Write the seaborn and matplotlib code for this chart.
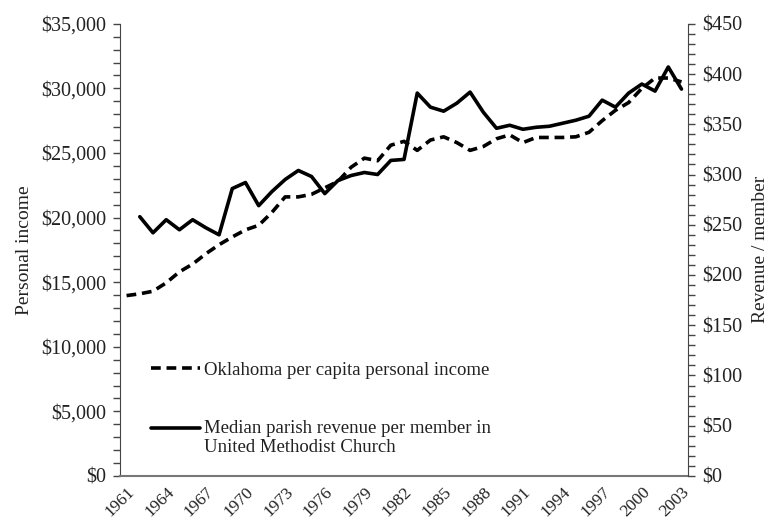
import numpy as np
import pandas as pd
import matplotlib
matplotlib.use("Agg")
import matplotlib.pyplot as plt
import matplotlib.ticker as mticker
from matplotlib.legend_handler import HandlerLine2D
import seaborn as sns

# years on the category axis
years = list(range(1961, 2004))
# Oklahoma per capita personal income (left axis), 1961-2003
income = [13960, 14100, 14300, 14950, 15800, 16400, 17200, 17900, 18500, 19050,
          19400, 20400, 21600, 21600, 21800, 22300, 22800, 23900, 24600, 24400,
          25600, 25900, 25200, 26000, 26250, 25800, 25200, 25500, 26100, 26400,
          25800, 26200, 26200, 26200, 26250, 26600, 27500, 28300, 28900, 30000,
          30800, 30800, 30500]
# median parish revenue per member (right axis), 1962-2003
rev_years = list(range(1962, 2004))
revenue = [258, 242, 255, 245, 255, 247, 240, 286, 292, 269,
           283, 295, 304, 298, 281, 294, 299, 302, 300, 314,
           315, 381, 367, 363, 371, 382, 362, 346, 349, 345,
           347, 348, 351, 354, 358, 374, 367, 381, 390, 383,
           407, 385]
xtick_years = list(range(1961, 2004, 3))

income_label = "Oklahoma per capita personal income"
revenue_label = "Median parish revenue per member in\nUnited Methodist Church"

sns.set_style("white")
plt.rcParams['font.family'] = ['Liberation Serif', 'DejaVu Serif']
txt = '#222222'
fs = 14.5


# legend handle that sits on the first line of a two-line label
class FirstLineHandler(HandlerLine2D):
    def __init__(self, shift=0, **kw):
        super().__init__(**kw)
        self.shift = shift

    def create_artists(self, legend, orig_handle, xdescent, ydescent,
                       width, height, fontsize, trans):
        arts = super().create_artists(legend, orig_handle, xdescent, ydescent,
                                      width, height, fontsize, trans)
        for a in arts:
            a.set_ydata(np.asarray(a.get_ydata()) + self.shift)
        return arts


fig = plt.figure(figsize=(7.74, 5.21), dpi=100)
ax = fig.add_axes([0.155, 0.0864, 0.734, 0.868])
ax2 = ax.twinx()

sns.lineplot(x=years, y=income, ax=ax, color='black', linewidth=2.6,
             linestyle=(0, (2.7, 1.6)), label=income_label)
sns.lineplot(x=rev_years, y=revenue, ax=ax2, color='black', linewidth=2.6,
             label=revenue_label)
for a in (ax, ax2):
    if a.get_legend() is not None:
        a.get_legend().remove()

ax.set_xlim(1960.5, 2003.5)
ax.set_ylim(0, 35000)
ax2.set_ylim(0, 450)

ax.yaxis.set_major_locator(mticker.MultipleLocator(5000))
ax.yaxis.set_minor_locator(mticker.MultipleLocator(1000))
ax.yaxis.set_major_formatter(mticker.StrMethodFormatter('${x:,.0f}'))
ax2.yaxis.set_major_locator(mticker.MultipleLocator(50))
ax2.yaxis.set_minor_locator(mticker.MultipleLocator(10))
ax2.yaxis.set_major_formatter(mticker.StrMethodFormatter('${x:,.0f}'))

ax.set_xticks(xtick_years)
ax.set_xticklabels([str(y) for y in xtick_years], rotation=45, ha='right',
                   rotation_mode='anchor', fontsize=12.5, color=txt)
ax.tick_params(axis='x', length=0, pad=6)

for a in (ax, ax2):
    a.tick_params(axis='y', which='both', direction='out', length=5,
                  width=1, color='#444444', labelsize=fs, labelcolor=txt,
                  pad=5)

ax.set_ylabel('Personal income', fontsize=14, color=txt, labelpad=6)
ax2.set_ylabel('Revenue / member', fontsize=14, color=txt, labelpad=7)

for s in ['top', 'right']:
    ax.spines[s].set_visible(False)
for s in ['top', 'left', 'bottom']:
    ax2.spines[s].set_visible(False)
ax.spines['left'].set_color('#444444')
ax.spines['bottom'].set_color('#777777')
ax2.spines['right'].set_color('#444444')
ax.spines['bottom'].set_linewidth(1.5)

handles = [ax.get_lines()[0], ax2.get_lines()[0]]
ax2.legend(handles, [income_label, revenue_label], loc='lower left',
           bbox_to_anchor=(0.025, 0.006), frameon=False, fontsize=13.5,
           handlelength=2.6, labelspacing=2.2, handletextpad=0.25,
           labelcolor=txt,
           handler_map={handles[1]: FirstLineHandler(shift=7)})

fig.savefig('out.png', dpi=100)
